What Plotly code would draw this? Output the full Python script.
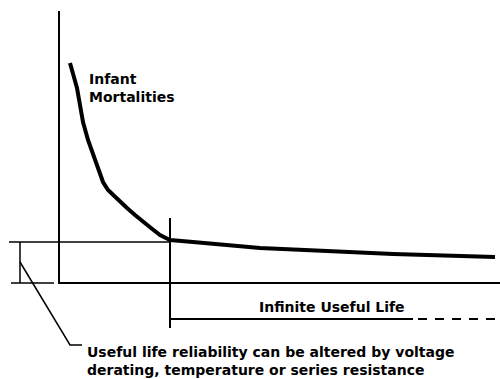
import plotly.graph_objects as go

# Bathtub-style failure-rate sketch, drawn in a 500 x 379 canvas coordinate space (y grows downward)

# Failure-rate curve: steep infant-mortality decline, then a slow flat tail
curve_x = [70, 74, 77, 80, 83, 88, 93, 98, 103, 108, 113, 120, 127, 135, 143, 151, 160, 170, 193, 260, 327, 393, 495]
curve_y = [63, 76, 88, 105, 122, 140, 155, 170, 182, 190, 195, 202, 208, 215, 222, 228, 235, 240, 242, 248, 251, 254, 257]

# Vertical (failure-rate) axis
axis_x = [59, 59]
axis_y = [11, 284]

# Reference level where infant mortality ends
level_x = [9, 170]
level_y = [242, 242]

# Baseline, split in two segments
base_left_x = [11, 54]
base_left_y = [283, 283]
base_right_x = [59, 500]
base_right_y = [283, 283]

# End of infant-mortality period marker
marker_x = [170, 170]
marker_y = [218, 328]

# Bracket showing the useful-life reliability band
bracket_x = [20, 20]
bracket_y = [242, 283]

# Leader from the bracket to the note
leader_x = [20, 70, 82]
leader_y = [262, 345, 345]

# Useful-life span arrow: solid part then dashed continuation
life_solid_x = [170, 413]
life_solid_y = [319, 319]
life_dash_x = [418, 500]
life_dash_y = [319, 319]

labels = {
    "infant": ("Infant<br>Mortalities", 87, 88),
    "life": ("Infinite Useful Life", 257, 307),
    "note": ("Useful life reliability can be altered by voltage<br>"
             "derating, temperature or series resistance", 85, 361),
}

fig = go.Figure()


def seg(x, y, width, dash="solid"):
    fig.add_trace(go.Scatter(
        x=x, y=y, mode="lines", hoverinfo="skip", showlegend=False,
        line=dict(color="black", width=width, dash=dash),
    ))


seg(axis_x, axis_y, 2)
seg(level_x, level_y, 1.5)
seg(base_left_x, base_left_y, 1.5)
seg(base_right_x, base_right_y, 2)
seg(marker_x, marker_y, 2)
seg(bracket_x, bracket_y, 1.5)
seg(leader_x, leader_y, 1.5)
seg(life_solid_x, life_solid_y, 2)
seg(life_dash_x, life_dash_y, 2, dash="9px,8px")
seg(curve_x, curve_y, 4)

font = dict(family="DejaVu Sans, sans-serif", size=14, color="black")
for text, x, y in labels.values():
    fig.add_annotation(
        x=x, y=y, text="<b>" + text + "</b>", showarrow=False,
        xanchor="left", yanchor="middle", align="left", font=font,
    )

fig.update_layout(
    width=500, height=379,
    margin=dict(l=0, r=0, t=0, b=0),
    paper_bgcolor="white", plot_bgcolor="white",
    xaxis=dict(range=[0, 500], visible=False, fixedrange=True),
    yaxis=dict(range=[379, 0], visible=False, fixedrange=True),
)

fig.write_html("out.html")
